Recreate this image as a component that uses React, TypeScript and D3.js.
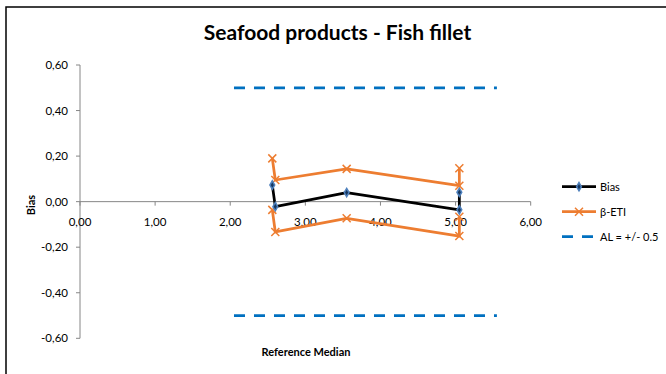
import React from "react";
import * as d3 from "d3";

// Reference median (x) and bias values for the fish fillet samples
const medianX = [2.56, 2.6, 3.55, 5.05, 5.05];
const biasY = [0.073, -0.022, 0.04, -0.036, 0.041];
// β expectation tolerance interval, upper and lower limits
const etiUpperY = [0.19, 0.095, 0.144, 0.07, 0.147];
const etiLowerY = [-0.036, -0.133, -0.073, -0.151, -0.066];
// Acceptance limits ±0.5
const alX = [2.05, 5.55];
const alLevels = [0.5, -0.5];

const xTicks = [0, 1, 2, 3, 4, 5, 6];
const yTicks = [-0.6, -0.4, -0.2, 0, 0.2, 0.4, 0.6];

const legendItems = ["Bias", "β-ETI", "AL = +/- 0.5"];

const W = 666;
const H = 374;
const FONT = "Lato, 'Open Sans', sans-serif";
const AXIS = "#868686";
const BLACK = "#000000";
const ORANGE = "#ED7D31";
const BLUE = "#0070C0";

const fmt = (v: number) => v.toFixed(2).replace(".", ",");

export default function App() {
  const x = d3.scaleLinear().domain([0, 6]).range([80, 530.7]);
  const y = d3.scaleLinear().domain([-0.6, 0.6]).range([338.3, 65]);

  const line = d3
    .line<[number, number]>()
    .x((d) => x(d[0]))
    .y((d) => y(d[1]));

  const biasPts = medianX.map((m, i) => [m, biasY[i]] as [number, number]);
  const upPts = medianX.map((m, i) => [m, etiUpperY[i]] as [number, number]);
  const loPts = medianX.map((m, i) => [m, etiLowerY[i]] as [number, number]);

  const diamond = d3.symbol().type(d3.symbolDiamond).size(20)() as string;

  const cross = (cx: number, cy: number, k: string) => (
    <path
      key={k}
      d={`M${cx - 4},${cy - 4}L${cx + 4},${cy + 4}M${cx - 4},${cy + 4}L${cx + 4},${cy - 4}`}
      stroke={ORANGE}
      strokeWidth={1.5}
      fill="none"
    />
  );

  const lx0 = 562;
  const lx1 = 596;
  const lTextX = 600;
  const lY = [186.7, 211.7, 236.7];

  return (
    <svg
      width={W}
      height={H}
      style={{ position: "absolute", left: 0, top: 0, display: "block", background: "#fff" }}
      fontFamily={FONT}
    >
      <rect x={0} y={0} width={W} height={H} fill="#fff" />
      {/* chart frame */}
      <rect x={6} y={7} width={W + 20} height={H + 20} fill="none" stroke="#000" strokeWidth={1.5} />

      <text x={337.5} y={40} textAnchor="middle" fontSize={21} fontWeight="bold" fill="#000">
        Seafood products - Fish fillet
      </text>

      {/* y axis */}
      <line x1={x(0)} x2={x(0)} y1={y(0.6)} y2={y(-0.6)} stroke={AXIS} strokeWidth={1} />
      {yTicks.map((t) => (
        <g key={"yt" + t}>
          <line x1={x(0) - 4} x2={x(0)} y1={y(t)} y2={y(t)} stroke={AXIS} strokeWidth={1} />
          <text x={x(0) - 12} y={y(t)} dy="0.35em" textAnchor="end" fontSize={11.5} fill="#000">
            {fmt(t)}
          </text>
        </g>
      ))}

      {/* x axis at zero */}
      <line x1={x(0)} x2={x(6)} y1={y(0)} y2={y(0)} stroke={AXIS} strokeWidth={1} />
      {xTicks.map((t) => (
        <g key={"xt" + t}>
          <line x1={x(t)} x2={x(t)} y1={y(0)} y2={y(0) + 4} stroke={AXIS} strokeWidth={1} />
          <text x={x(t)} y={y(0) + 20} dy="0.35em" textAnchor="middle" fontSize={11.5} fill="#000">
            {fmt(t)}
          </text>
        </g>
      ))}

      <text
        transform={`translate(35,205) rotate(-90)`}
        textAnchor="middle"
        fontSize={11}
        fontWeight="bold"
        fill="#000"
      >
        Bias
      </text>
      <text x={306} y={352} dy="0.35em" textAnchor="middle" fontSize={11} fontWeight="bold" fill="#000">
        Reference Median
      </text>

      {/* acceptance limits */}
      {alLevels.map((lvl) => (
        <path
          key={"al" + lvl}
          d={line(alX.map((a) => [a, lvl] as [number, number])) as string}
          stroke={BLUE}
          strokeWidth={2.75}
          strokeDasharray="11 9"
          fill="none"
        />
      ))}

      {/* tolerance interval */}
      {[upPts, loPts].map((pts, j) => (
        <g key={"eti" + j}>
          <path d={line(pts) as string} stroke={ORANGE} strokeWidth={2.75} fill="none" strokeLinejoin="round" />
          {pts.map((p, i) => cross(x(p[0]), y(p[1]), `c${j}-${i}`))}
        </g>
      ))}

      {/* bias */}
      <path d={line(biasPts) as string} stroke={BLACK} strokeWidth={2.75} fill="none" strokeLinejoin="round" />
      {biasPts.map((p, i) => (
        <path
          key={"b" + i}
          d={diamond}
          transform={`translate(${x(p[0])},${y(p[1])})`}
          fill="#17375E"
          stroke="#4F81BD"
          strokeWidth={1.5}
        />
      ))}

      {/* legend */}
      <g>
        <line x1={lx0} x2={lx1} y1={lY[0]} y2={lY[0]} stroke={BLACK} strokeWidth={2.75} />
        <path d={diamond} transform={`translate(${(lx0 + lx1) / 2},${lY[0]})`} fill="#17375E" stroke="#4F81BD" strokeWidth={1.5} />
        <line x1={lx0} x2={lx1} y1={lY[1]} y2={lY[1]} stroke={ORANGE} strokeWidth={2.75} />
        {cross((lx0 + lx1) / 2, lY[1], "lc")}
        <line x1={lx0} x2={lx1} y1={lY[2]} y2={lY[2]} stroke={BLUE} strokeWidth={2.75} strokeDasharray="11 9" />
        {legendItems.map((t, i) => (
          <text key={t} x={lTextX} y={lY[i]} dy="0.35em" fontSize={11} fill="#000">
            {t}
          </text>
        ))}
      </g>
    </svg>
  );
}
